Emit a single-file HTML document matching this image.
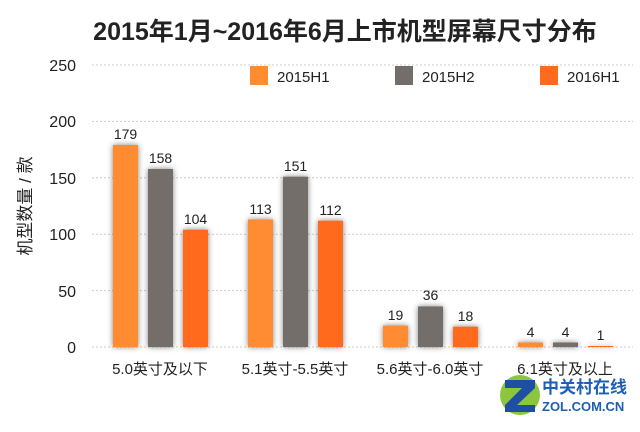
<!DOCTYPE html><html><head><meta charset="utf-8"><style>
body{margin:0;background:#fff;}
svg text{font-family:"Liberation Sans","Noto Sans CJK SC",sans-serif;}
</style></head><body>
<svg width="640" height="427" viewBox="0 0 640 427" xmlns="http://www.w3.org/2000/svg">
<defs><filter id="s" x="-40%" y="-10%" width="180%" height="120%"><feDropShadow dx="0" dy="0" stdDeviation="3" flood-color="#000" flood-opacity="0.5"/></filter></defs>
<text x="345" y="40" text-anchor="middle" font-size="25" font-weight="bold" fill="#222">2015年1月~2016年6月上市机型屏幕尺寸分布</text>
<g stroke="#ccc" stroke-dasharray="2,2" stroke-width="1">
<line x1="92" y1="65" x2="633" y2="65"/><line x1="92" y1="121.4" x2="633" y2="121.4"/><line x1="92" y1="177.8" x2="633" y2="177.8"/><line x1="92" y1="234.2" x2="633" y2="234.2"/><line x1="92" y1="290.6" x2="633" y2="290.6"/><line x1="92" y1="347" x2="633" y2="347"/>
</g>
<g font-size="16" fill="#222" text-anchor="end">
<text x="76" y="71">250</text><text x="76" y="127">200</text><text x="76" y="184">150</text><text x="76" y="240">100</text><text x="76" y="297">50</text><text x="76" y="353">0</text>
</g>
<text transform="translate(31,206) rotate(-90)" text-anchor="middle" font-size="17" fill="#222">机型数量 / 款</text>
<rect x="250" y="66" width="18" height="19" fill="#FF8C30"/><text x="277" y="82" font-size="15" fill="#222">2015H1</text>
<rect x="395" y="66" width="18" height="19" fill="#736E6A"/><text x="422" y="82" font-size="15" fill="#222">2015H2</text>
<rect x="540" y="66" width="18" height="19" fill="#FF6A1E"/><text x="567" y="82" font-size="15" fill="#222">2016H1</text>
<g filter="url(#s)">
<rect x="113" y="145" width="25" height="202" fill="#FF8C30"/><rect x="148" y="169" width="25" height="178" fill="#736E6A"/><rect x="183" y="229.7" width="25" height="117.3" fill="#FF6A1E"/>
<rect x="248" y="219.5" width="25" height="127.5" fill="#FF8C30"/><rect x="283" y="176.7" width="25" height="170.3" fill="#736E6A"/><rect x="318" y="220.7" width="25" height="126.3" fill="#FF6A1E"/>
<rect x="383" y="325.6" width="25" height="21.4" fill="#FF8C30"/><rect x="418" y="306.4" width="25" height="40.6" fill="#736E6A"/><rect x="453" y="326.7" width="25" height="20.3" fill="#FF6A1E"/>
<rect x="518" y="342.5" width="25" height="4.5" fill="#FF8C30"/><rect x="553" y="342.5" width="25" height="4.5" fill="#736E6A"/><rect x="588" y="345.9" width="25" height="1.1" fill="#FF6A1E"/>
</g>
<g font-size="14" fill="#222" text-anchor="middle">
<text x="125.5" y="139">179</text><text x="160.5" y="163">158</text><text x="195.5" y="224">104</text>
<text x="260.5" y="214">113</text><text x="295.5" y="171">151</text><text x="330.5" y="215">112</text>
<text x="395.5" y="320">19</text><text x="430.5" y="300">36</text><text x="465.5" y="321">18</text>
<text x="530.5" y="337">4</text><text x="565.5" y="337">4</text><text x="600.5" y="340">1</text>
</g>
<g font-size="15" fill="#222" text-anchor="middle">
<text x="160" y="374">5.0英寸及以下</text><text x="295" y="374">5.1英寸-5.5英寸</text><text x="430" y="374">5.6英寸-6.0英寸</text><text x="565" y="374">6.1英寸及以上</text>
</g>
<circle cx="520" cy="395" r="20" fill="#8CC63F"/>
<polygon points="505,380 535,380 535,388 517,405 535,405 535,412 505,412 505,405 522,388 505,388" fill="#1E4FA3"/>
<text x="542" y="393" font-size="17" font-weight="bold" fill="#1E5FB3">中关村在线</text>
<text x="542" y="411" font-size="13" font-weight="bold" fill="#1E5FB3">ZOL.COM.CN</text>
</svg>
</body></html>
